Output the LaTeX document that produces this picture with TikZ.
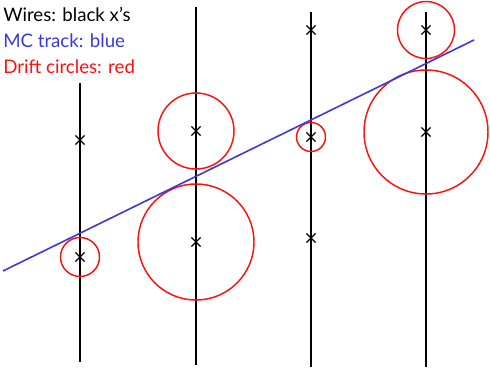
\documentclass[tikz,border=0pt]{standalone}
\usepackage{fontspec}
\setmainfont{Lato}
\usetikzlibrary{shapes.misc}
\definecolor{trackblue}{HTML}{3A3AD8}
\definecolor{driftred}{HTML}{FF1010}

\begin{document}
\begin{tikzpicture}[
    x=0.75pt, y=-0.75pt,
    wire/.style={line width=1.7pt, black},
    hit/.style={cross out, draw=black, line width=0.9pt, minimum size=6pt, inner sep=0pt},
    drift/.style={draw=driftred, line width=1.1pt},
    track/.style={draw=trackblue, line width=1.2pt},
    legend/.style={font=\fontsize{14}{16}\selectfont, anchor=west, inner sep=0pt, text=#1}
]
\useasboundingbox (0,0) rectangle (490,373);

% Legend
\node[legend=black] (lwires) at (3,14) {Wires: black x's};
\node[legend=trackblue] (ltrack) at (3,41) {MC track: blue};
\node[legend=driftred] (ldrift) at (3,67) {Drift circles: red};

% Wires
\draw[wire] (80,83) -- (80,362);
\draw[wire] (196,7) -- (196,365);
\draw[wire] (311,12) -- (311,367);
\draw[wire] (426,12) -- (426,367);

% Hits
\node[hit] (h11) at (80,140) {};
\node[hit] (h12) at (80,257) {};
\node[hit] (h21) at (196,131) {};
\node[hit] (h22) at (196,242) {};
\node[hit] (h31) at (311,30) {};
\node[hit] (h32) at (311,137) {};
\node[hit] (h33) at (311,238) {};
\node[hit] (h41) at (426,30) {};
\node[hit] (h42) at (426,132) {};

% Drift circles
\draw[drift] (h12) circle (19.5);
\draw[drift] (h21) circle (38);
\draw[drift] (h22) circle (58);
\draw[drift] (h32) circle (14.5);
\draw[drift] (h41) circle (28.5);
\draw[drift] (h42) circle (62);

% MC track
\draw[track] (3,271) -- (474,40);

\end{tikzpicture}
\end{document}
